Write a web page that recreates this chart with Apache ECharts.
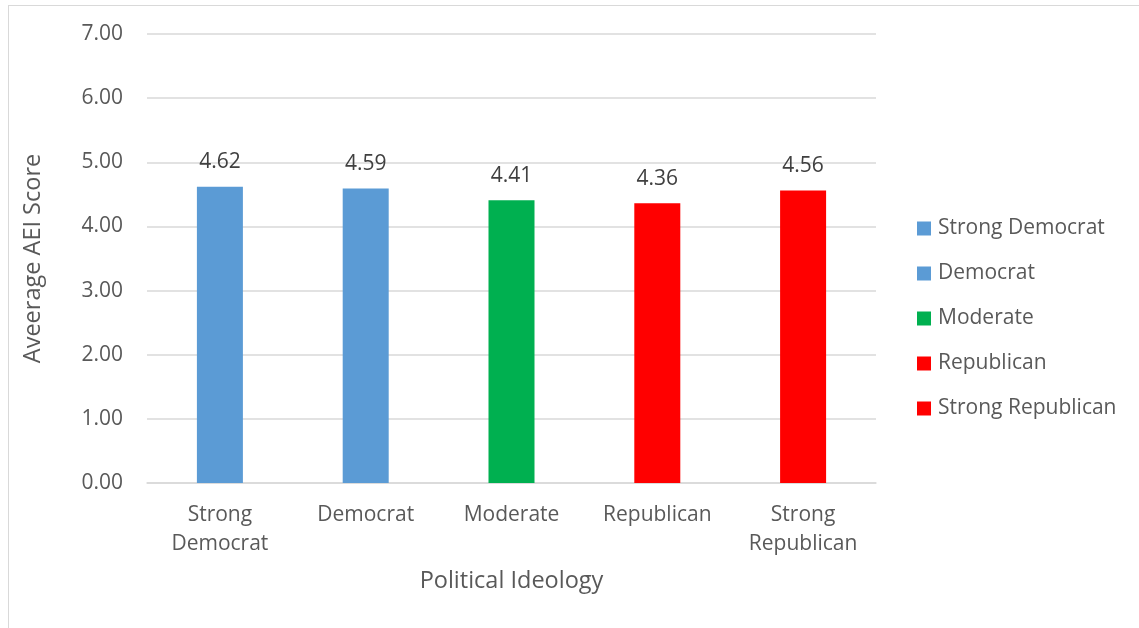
<!DOCTYPE html>
<html>
<head>
<meta charset="utf-8">
<script src="https://cdn.jsdelivr.net/npm/echarts@6/dist/echarts.min.js"></script>
<style>
html,body{margin:0;padding:0;background:#fff;}
#wrap{position:relative;width:1139px;height:628px;}
#frame{position:absolute;left:8px;top:5px;right:-2px;bottom:-2px;border-top:1.5px solid #d9d9d9;border-left:1.5px solid #d9d9d9;}
#chart{position:absolute;left:0;top:0;width:1139px;height:628px;}
</style>
</head>
<body>
<div id="wrap"><div id="frame"></div><div id="chart"></div></div>
<script>
const categories = ['Strong\nDemocrat', 'Democrat', 'Moderate', 'Republican', 'Strong\nRepublican'];
const seriesNames = ['Strong Democrat', 'Democrat', 'Moderate', 'Republican', 'Strong Republican'];
const values = [4.62, 4.59, 4.41, 4.36, 4.56];
const colors = ['#5B9BD5', '#5B9BD5', '#00B050', '#FF0000', '#FF0000'];
const yTicks = [0, 1, 2, 3, 4, 5, 6, 7];

const FONT = 'Open Sans';
const series = seriesNames.map((name, i) => ({
  name: name,
  type: 'bar',
  stack: 'all',
  barWidth: 46,
  itemStyle: { color: colors[i] },
  data: values.map((v, j) => (j === i ? v : '-')),
  label: {
    show: true, position: 'top', distance: 14,
    color: '#404040', fontFamily: FONT, fontSize: 21,
    formatter: p => p.value.toFixed(2)
  }
}));

const chart = echarts.init(document.getElementById('chart'), null, { renderer: 'canvas' });
chart.setOption({
  animation: false,
  backgroundColor: 'transparent',
  grid: { left: 147, right: 263, top: 34, bottom: 145, containLabel: false },
  legend: {
    orient: 'vertical', left: 912, top: 213, itemGap: 24,
    itemWidth: 14, itemHeight: 14, icon: 'rect',
    textStyle: { color: '#595959', fontFamily: FONT, fontSize: 21, padding: [0, 0, 0, 2] },
    data: seriesNames
  },
  xAxis: {
    type: 'category', data: categories,
    name: 'Political Ideology', nameLocation: 'middle', nameGap: 86,
    nameTextStyle: { color: '#595959', fontFamily: FONT, fontSize: 23.5 },
    axisLine: { lineStyle: { color: '#d9d9d9', width: 1.5 } },
    axisTick: { show: false },
    axisLabel: { color: '#595959', fontFamily: FONT, fontSize: 21, lineHeight: 29, margin: 18, interval: 0 }
  },
  yAxis: {
    type: 'value', min: yTicks[0], max: yTicks[yTicks.length - 1], interval: 1,
    name: 'Aveerage AEI Score', nameLocation: 'middle', nameGap: 102,
    nameTextStyle: { color: '#595959', fontFamily: FONT, fontSize: 23.5 },
    axisLine: { show: false }, axisTick: { show: false },
    splitLine: { lineStyle: { color: '#d9d9d9', width: 1.5 } },
    axisLabel: { color: '#595959', fontFamily: FONT, fontSize: 21, margin: 24, formatter: v => v.toFixed(2) }
  },
  series: series
});
</script>
</body>
</html>
